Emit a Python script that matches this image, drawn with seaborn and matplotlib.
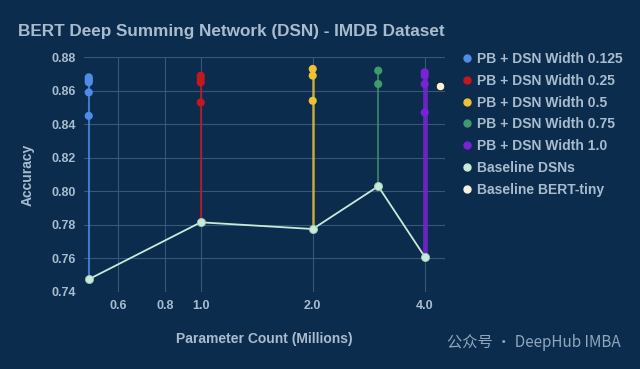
import numpy as np
import pandas as pd
import matplotlib
matplotlib.use('Agg')
import matplotlib.pyplot as plt
import seaborn as sns
from matplotlib.lines import Line2D

# Data
widths = ['0.125', '0.25', '0.5', '0.75', '1.0']
params = [0.5, 1.0, 2.0, 3.0, 4.0]          # millions
baseline_dsn = [0.7475, 0.7815, 0.7775, 0.8030, 0.7610]
pb_acc = [
    [0.868, 0.867, 0.866, 0.865, 0.859, 0.845],
    [0.869, 0.867, 0.865, 0.853],
    [0.873, 0.869, 0.854],
    [0.872, 0.864],
    [0.871, 0.869, 0.864, 0.847],
]
bert_tiny_x = [4.4]
bert_tiny_acc = [0.863]

colors = ['#4f8ce8', '#c8161e', '#f0c232', '#3f9a6c', '#7b22d6']
line_w = [1.5, 1.5, 1.8, 1.3, 3.5]
base_color = '#c9ead8'
tiny_color = '#f6f3de'

bg = '#0c2c4d'
text_c = '#a9bccf'
grid_c = '#34577a'

sns.set_theme(style='dark')
plt.rcParams['font.family'] = ['Liberation Sans', 'DejaVu Sans']

rows = []
for w, x, accs in zip(widths, params, pb_acc):
    for a in accs:
        rows.append({'series': 'PB + DSN Width ' + w, 'params': x, 'acc': a})
pb_df = pd.DataFrame(rows)
base_df = pd.DataFrame({'params': params, 'acc': baseline_dsn})
tiny_df = pd.DataFrame({'params': bert_tiny_x, 'acc': bert_tiny_acc})

fig = plt.figure(figsize=(6.4, 3.69), dpi=100, facecolor=bg)
ax = fig.add_axes([0.131, 0.209, 0.564, 0.636])
ax.set_facecolor(bg)

# vertical stems from baseline up to the best PB run
for x, b, accs, c, lw in zip(params, baseline_dsn, pb_acc, colors, line_w):
    ax.vlines(x, b, max(accs), color=c, lw=lw, alpha=0.8, zorder=2)

sns.lineplot(data=base_df, x='params', y='acc', color=base_color, lw=1.3,
             ax=ax, zorder=3, legend=False)
sns.scatterplot(data=pb_df, x='params', y='acc', hue='series',
                palette=dict(zip(pb_df['series'].unique(), colors)),
                s=34, edgecolor='none', ax=ax, zorder=4, legend=False)
sns.scatterplot(data=base_df, x='params', y='acc', color=base_color, s=34,
                edgecolor='#9cc9b2', linewidth=0.6, ax=ax, zorder=5)
sns.scatterplot(data=tiny_df, x='params', y='acc', color=tiny_color, s=38,
                edgecolor='#1a1a1a', linewidth=0.6, ax=ax, zorder=5)

ax.set_xscale('log')
ax.set_xlim(0.485, 4.53)
ax.set_ylim(0.74, 0.88)
xt = [0.6, 0.8, 1.0, 2.0, 4.0]
ax.set_xticks(xt)
ax.set_xticklabels(['0.6', '0.8', '1.0', '2.0', '4.0'])
ax.xaxis.set_minor_locator(matplotlib.ticker.NullLocator())
ax.set_yticks(np.arange(0.74, 0.8801, 0.02))
ax.set_yticklabels([f'{v:.2f}' for v in np.arange(0.74, 0.8801, 0.02)])
ax.grid(True, color=grid_c, lw=0.8)
for s in ax.spines.values():
    s.set_visible(False)
ax.tick_params(colors=text_c, labelsize=9, length=0, pad=6)
for lab in ax.get_xticklabels() + ax.get_yticklabels():
    lab.set_fontweight('bold')

ax.set_xlabel('Parameter Count (Millions)', color=text_c, fontsize=10,
              fontweight='bold', labelpad=14)
ax.set_ylabel('Accuracy', color=text_c, fontsize=10, fontweight='bold',
              labelpad=12)
fig.text(0.028, 0.915, 'BERT Deep Summing Network (DSN) - IMDB Dataset',
         color=text_c, fontsize=12.3, fontweight='bold', ha='left', va='center')

handles = [Line2D([], [], ls='none', marker='o', ms=5, color=c,
                  label='PB + DSN Width ' + w) for w, c in zip(widths, colors)]
handles.append(Line2D([], [], ls='none', marker='o', ms=5, color=base_color,
                      label='Baseline DSNs'))
handles.append(Line2D([], [], ls='none', marker='o', ms=5, color=tiny_color,
                      label='Baseline BERT-tiny'))
leg = fig.legend(handles=handles, loc='upper left',
                 bbox_to_anchor=(0.70, 0.893), frameon=False,
                 handletextpad=0.2, handlelength=1.0, labelspacing=0.56,
                 prop={'weight': 'bold', 'size': 10})
for t in leg.get_texts():
    t.set_color(text_c)

fig.text(0.97, 0.073, '公众号 · DeepHub IMBA', color='#8fa6bd', fontsize=11,
         ha='right', va='center', family=['Noto Sans CJK SC', 'DejaVu Sans'])

fig.savefig('out.png', dpi=100, facecolor=bg)
